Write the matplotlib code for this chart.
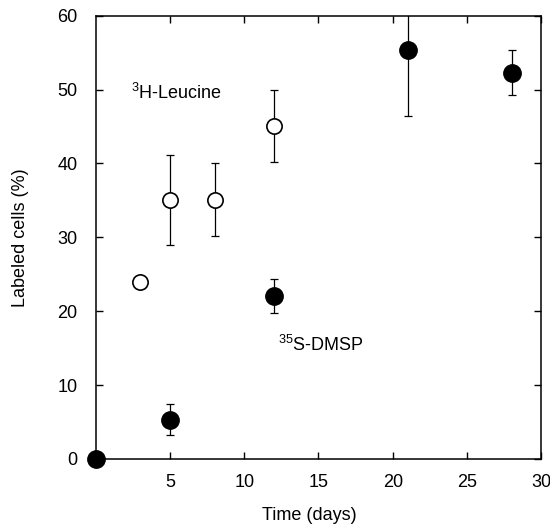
import matplotlib
matplotlib.use("Agg")
import matplotlib.pyplot as plt

# 3H-Leucine (open circles)
leu_day = [3, 5, 8, 12]
leu_pct = [24.0, 35.1, 35.1, 45.1]
leu_err = [0.0, 6.1, 4.9, 4.9]

# 35S-DMSP (filled circles)
dmsp_day = [0, 5, 12, 21, 28]
dmsp_pct = [0.0, 5.3, 22.0, 55.3, 52.3]
dmsp_err = [0.0, 2.1, 2.3, 8.9, 3.0]

xticks = [5, 10, 15, 20, 25, 30]
yticks = [0, 10, 20, 30, 40, 50, 60]

plt.rcParams["font.family"] = ["Liberation Sans", "DejaVu Sans"]
plt.rcParams["mathtext.fontset"] = "custom"
plt.rcParams["mathtext.rm"] = "Liberation Sans"

fig = plt.figure(figsize=(5.5, 5.25), dpi=100)
ax = fig.add_axes([0.174, 0.126, 0.810, 0.844])

# error bars (clipped at the frame), markers drawn on top and not clipped
ax.errorbar(leu_day, leu_pct, yerr=leu_err, fmt="none", ecolor="black",
            elinewidth=0.9, capsize=3, capthick=0.9)
ax.errorbar(dmsp_day, dmsp_pct, yerr=dmsp_err, fmt="none", ecolor="black",
            elinewidth=0.9, capsize=3, capthick=0.9)
ax.plot(leu_day, leu_pct, "o", ms=11, mfc="white", mec="black", mew=1.2,
        ls="none", clip_on=False, zorder=5)
ax.plot(dmsp_day, dmsp_pct, "o", ms=12.5, mfc="black", mec="black",
        ls="none", clip_on=False, zorder=5)

ax.text(2.4, 49.6, r"$^{3}$H-Leucine", fontsize=13, va="center", ha="left")
ax.text(12.3, 15.4, r"$^{35}$S-DMSP", fontsize=13, va="center", ha="left")

ax.set_xlim(0, 30)
ax.set_ylim(0, 60)
ax.set_xticks(xticks)
ax.set_yticks(yticks)
ax.tick_params(direction="in", length=5, width=1.0, top=True, right=True,
               labelsize=13)
ax.tick_params(axis="x", pad=11)
ax.tick_params(axis="y", pad=13)
for s in ax.spines.values():
    s.set_linewidth(1.1)

ax.set_xlabel("Time (days)", fontsize=13)
ax.set_ylabel("Labeled cells (%)", fontsize=13)
ax.xaxis.set_label_coords(0.479, -0.108)
ax.yaxis.set_label_coords(-0.15, 0.5)

fig.savefig("out.png", dpi=100, facecolor="white")
